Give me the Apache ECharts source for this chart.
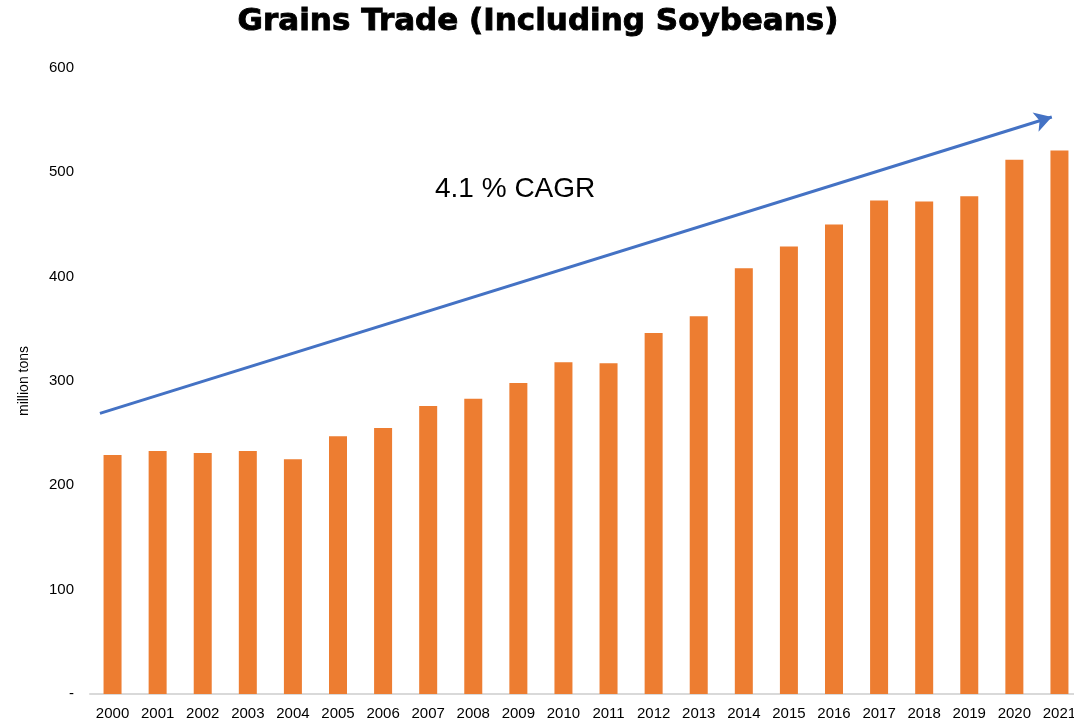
<!DOCTYPE html>
<html>
<head>
<meta charset="utf-8">
<script src="https://cdn.jsdelivr.net/npm/echarts@6/dist/echarts.min.js"></script>
<style>
html,body{margin:0;padding:0;background:#fff;overflow:hidden;}
#chart{width:1090px;height:724px;}
</style>
</head>
<body>
<div id="chart"></div>
<script>
// data
var years = ['2000','2001','2002','2003','2004','2005','2006','2007','2008','2009','2010',
             '2011','2012','2013','2014','2015','2016','2017','2018','2019','2020','2021'];
var trade = [229, 233, 231, 233, 225, 247, 255, 276, 283, 298, 318,
             317, 346, 362, 408, 429, 450, 473, 472, 477, 512, 521];
var yTicks = [0, 100, 200, 300, 400, 500, 600];
// trend arrow, start and end in (category position, value)
var arrowStart = [-0.28, 269];
var arrowEnd = [20.83, 553];

var myChart = echarts.init(document.getElementById('chart'));

var option = {
    animation: false,
    graphic: [{
        type: 'text',
        x: 538,
        y: 6,
        style: {
            text: 'Grains Trade (Including Soybeans)',
            font: 'bold 31px "DejaVu Sans", sans-serif',
            fill: '#000',
            stroke: '#000',
            lineWidth: 0.9,
            textAlign: 'center'
        }
    }, {
        type: 'text',
        x: 435,
        y: 175,
        style: {
            text: '4.1 % CAGR',
            font: '28px "Liberation Sans", Arial, sans-serif',
            fill: '#000'
        }
    }],
    grid: {
        left: 90,
        top: 68,
        width: 992,
        bottom: 30,
        containLabel: false
    },
    xAxis: [{
        type: 'category',
        data: years,
        axisLine: {lineStyle: {color: '#d9d9d9', width: 2}},
        axisTick: {show: false},
        axisLabel: {
            color: '#000',
            fontFamily: 'Liberation Sans',
            fontSize: 15,
            margin: 12,
            interval: 0
        }
    }, {
        type: 'value',
        min: -0.5,
        max: 21.5,
        show: false
    }],
    yAxis: {
        type: 'value',
        min: 0,
        max: 600,
        interval: 100,
        name: 'million tons',
        nameLocation: 'middle',
        nameGap: 59,
        nameTextStyle: {
            color: '#000',
            fontFamily: 'Liberation Sans',
            fontSize: 14
        },
        splitLine: {show: false},
        axisLine: {show: false},
        axisTick: {show: false},
        axisLabel: {
            color: '#000',
            fontFamily: 'Liberation Sans',
            fontSize: 15,
            margin: 16,
            formatter: function (v) {
                if (yTicks.indexOf(v) < 0) return '';
                return v === 0 ? '-' : String(v);
            }
        }
    },
    series: [{
        type: 'bar',
        data: trade,
        barWidth: 18,
        itemStyle: {color: '#ed7d31'}
    }, {
        type: 'line',
        xAxisIndex: 1,
        data: [],
        markLine: {
            silent: true,
            symbol: ['none', 'arrow'],
            symbolSize: [15, 17],
            label: {show: false},
            lineStyle: {color: '#4472c4', width: 3, type: 'solid'},
            data: [[
                {coord: arrowStart},
                {coord: arrowEnd}
            ]]
        }
    }]
};
myChart.setOption(option);
</script>
</body>
</html>
